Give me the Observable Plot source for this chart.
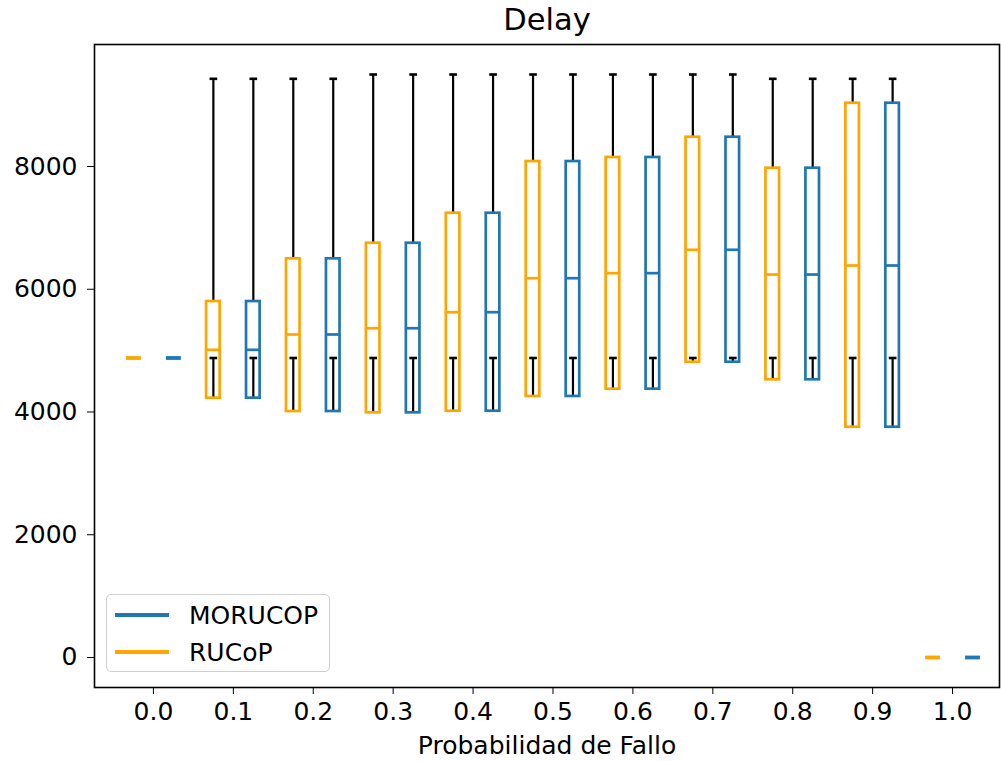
<!DOCTYPE html>
<html>
<head>
<meta charset="utf-8">
<script src="https://cdn.jsdelivr.net/npm/d3@7"></script>
<script src="https://cdn.jsdelivr.net/npm/@observablehq/plot@0.6"></script>
<style>
  html, body { margin: 0; padding: 0; background: #fff; }
  #wrap { position: relative; width: 1001px; height: 761px; font-family: "DejaVu Sans", sans-serif; }
  #legend { position: absolute; left: 106px; top: 594px; width: 224px; height: 78px;
            border: 1.3px solid #d0d0d0; border-radius: 5px; background: rgba(255,255,255,0.8);
            box-sizing: border-box; }
  .item { position: absolute; left: 8px; height: 30px; display: flex; align-items: center; font-size: 25px; color: #000; }
  .item .ln { width: 54px; height: 3.3px; margin-right: 20px; }
</style>
</head>
<body>
<div id="wrap"></div>
<script>
// ---- data ----
const probs = [0.0, 0.1, 0.2, 0.3, 0.4, 0.5, 0.6, 0.7, 0.8, 0.9, 1.0];
const tickLabels = ["0.0","0.1","0.2","0.3","0.4","0.5","0.6","0.7","0.8","0.9","1.0"];
const yTicks = [0, 2000, 4000, 6000, 8000];
const seriesNames = ["MORUCOP", "RUCoP"];

const rucopQ1  = [4880, 4225, 4008, 3987, 4013, 4253, 4372, 4811, 4525, 3752, 0];
const rucopMed = [4880, 5013, 5263, 5365, 5626, 6180, 6262, 6643, 6240, 6387, 0];
const rucopQ3  = [4880, 5800, 6496, 6750, 7239, 8081, 8147, 8477, 7972, 9031, 0];
const rucopLo  = [4880, 4880, 4880, 4880, 4880, 4880, 4880, 4880, 4880, 4880, 0];
const rucopHi  = [4880, 9429, 9429, 9499, 9499, 9499, 9499, 9499, 9429, 9429, 0];

const morucopQ1  = [4880, 4225, 4008, 3987, 4013, 4253, 4372, 4811, 4525, 3752, 0];
const morucopMed = [4880, 5013, 5263, 5365, 5626, 6180, 6262, 6643, 6240, 6387, 0];
const morucopQ3  = [4880, 5800, 6496, 6750, 7239, 8081, 8147, 8477, 7972, 9031, 0];
const morucopLo  = [4880, 4880, 4880, 4880, 4880, 4880, 4880, 4880, 4880, 4880, 0];
const morucopHi  = [4880, 9429, 9429, 9499, 9499, 9499, 9499, 9499, 9429, 9429, 0];

// ---- layout / style ----
const BLUE = "#1f77b4", ORANGE = "#ffa500";
const OFFSET = 0.025, BOX_HW = 0.0085, CAP_HW = 0.0048;

const rows = [];
probs.forEach((p, i) => {
  rows.push({p, c: p - OFFSET, q1: rucopQ1[i], med: rucopMed[i], q3: rucopQ3[i], lo: rucopLo[i], hi: rucopHi[i], color: ORANGE});
  rows.push({p, c: p + OFFSET, q1: morucopQ1[i], med: morucopMed[i], q3: morucopQ3[i], lo: morucopLo[i], hi: morucopHi[i], color: BLUE});
});
const openBoxes = rows.filter(d => d.q3 > d.q1);
const flatBoxes = rows.filter(d => d.q3 <= d.q1);

const chart = Plot.plot({
  width: 1001,
  height: 761,
  marginTop: 44,
  marginBottom: 74,
  marginLeft: 94,
  marginRight: 2,
  style: {fontFamily: "DejaVu Sans, sans-serif", fontSize: "25px", color: "#000", background: "#fff"},
  x: {type: "linear", domain: [-0.07375, 1.05875]},
  y: {domain: [-489, 9988]},
  marks: [
    // whiskers
    Plot.link(openBoxes, {x1: "c", x2: "c", y1: "q3", y2: "hi", stroke: "#000", strokeWidth: 2.2}),
    Plot.link(openBoxes, {x1: "c", x2: "c", y1: "q1", y2: "lo", stroke: "#000", strokeWidth: 2.2}),
    // caps
    Plot.link(openBoxes, {x1: d => d.c - CAP_HW, x2: d => d.c + CAP_HW, y1: "hi", y2: "hi", stroke: "#000", strokeWidth: 2.6}),
    Plot.link(openBoxes, {x1: d => d.c - CAP_HW, x2: d => d.c + CAP_HW, y1: "lo", y2: "lo", stroke: "#000", strokeWidth: 2.6}),
    // boxes
    Plot.rect(openBoxes, {x1: d => d.c - BOX_HW, x2: d => d.c + BOX_HW, y1: "q1", y2: "q3",
      fill: "none", stroke: d => d.color, strokeWidth: 2.7}),
    // medians
    Plot.link(openBoxes, {x1: d => d.c - BOX_HW, x2: d => d.c + BOX_HW, y1: "med", y2: "med",
      stroke: d => d.color, strokeWidth: 2.7}),
    // collapsed boxes (all values equal) drawn as a flat dash
    Plot.link(flatBoxes, {x1: d => d.c - BOX_HW - 0.0008, x2: d => d.c + BOX_HW + 0.0008, y1: "med", y2: "med",
      stroke: d => d.color, strokeWidth: 3.8}),
    Plot.frame({stroke: "#000", strokeWidth: 1.6}),
    Plot.axisX({ticks: probs, tickFormat: d => tickLabels[probs.indexOf(d)], tickSize: 7, tickPadding: 8, label: null, fontSize: 25}),
    Plot.axisY({ticks: yTicks, tickFormat: d => String(d), tickSize: 7, tickPadding: 10, label: null, fontSize: 25}),
    Plot.text(["Delay"], {frameAnchor: "top", lineAnchor: "bottom", dy: -15, fontSize: 30.5, fill: "#000"}),
    Plot.text(["Probabilidad de Fallo"], {frameAnchor: "bottom", lineAnchor: "top", dy: 49, fontSize: 25, fill: "#000"})
  ]
});

const wrap = document.getElementById("wrap");
wrap.appendChild(chart);

const legend = document.createElement("div");
legend.id = "legend";
const colorOf = {MORUCOP: BLUE, RUCoP: ORANGE};
seriesNames.forEach((name, i) => {
  const it = document.createElement("div");
  it.className = "item";
  it.style.top = (5 + i * 37) + "px";
  const ln = document.createElement("span");
  ln.className = "ln";
  ln.style.background = colorOf[name];
  const tx = document.createElement("span");
  tx.textContent = name;
  it.appendChild(ln);
  it.appendChild(tx);
  legend.appendChild(it);
});
wrap.appendChild(legend);
</script>
</body>
</html>
